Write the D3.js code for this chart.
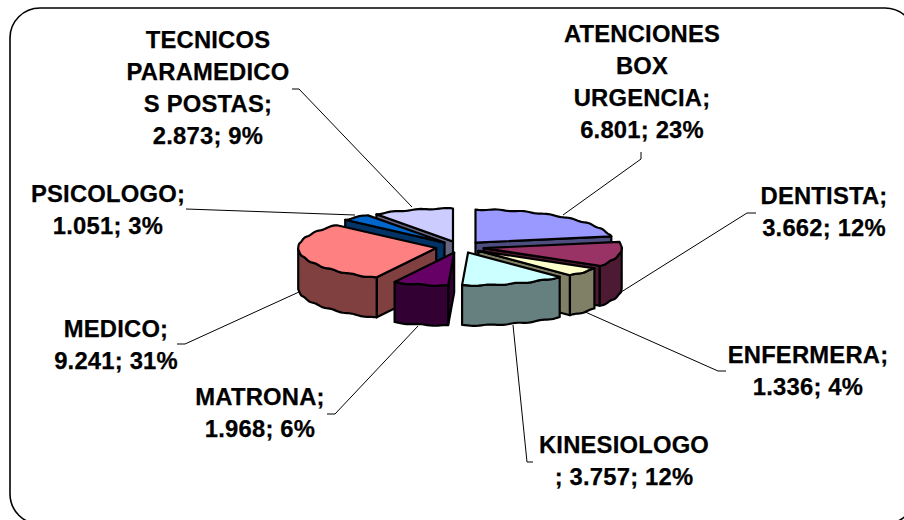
<!DOCTYPE html>
<html>
<head>
<meta charset="utf-8">
<script src="https://cdn.jsdelivr.net/npm/d3@7"></script>
<style>
  html, body { margin: 0; padding: 0; background: #fff; overflow: hidden; }
  text { font-family: "Liberation Sans", Arial, sans-serif; font-weight: bold; fill: #000; stroke: #000; stroke-width: 0.25; letter-spacing: 0.2px; }
</style>
</head>
<body>
<div id="chart"></div>
<script>
const categories = ["ATENCIONES BOX URGENCIA", "DENTISTA", "ENFERMERA", "KINESIOLOGO", "MATRONA", "MEDICO", "PSICOLOGO", "TECNICOS PARAMEDICOS POSTAS"];
const values = [6801, 3662, 1336, 3757, 1968, 9241, 1051, 2873];
const percents = [23, 12, 4, 12, 6, 31, 3, 9];
const topColors = ["#9999ff", "#993366", "#ffffcc", "#ccffff", "#660066", "#ff8080", "#0066cc", "#ccccff"];

// how the category wraps in its label, last line carries the value
const labelLines = [
  ["ATENCIONES", "BOX", "URGENCIA;"],
  ["DENTISTA;"],
  ["ENFERMERA;"],
  ["KINESIOLOGO"],
  ["MATRONA;"],
  ["MEDICO;"],
  ["PSICOLOGO;"],
  ["TECNICOS", "PARAMEDICO", "S POSTAS;"]
];

// label centre x, first baseline y, then the leader line points
const labelLayout = [
  { x: 642, y: 42, leader: [[641, 152], [641, 159], [563, 215]] },
  { x: 824, y: 204, leader: [[756, 213], [747, 213], [618, 294]] },
  { x: 808, y: 363, leader: [[726, 371], [718, 371], [583, 311]] },
  { x: 624, y: 453, leader: [[533, 462], [527, 462], [513, 325]] },
  { x: 260, y: 405, leader: [[327, 414], [335, 414], [418, 326]] },
  { x: 116, y: 337, leader: [[177, 344], [185, 344], [299, 292]] },
  { x: 108, y: 202, leader: [[186, 209], [355, 215]] },
  { x: 208, y: 48, leader: [[292, 89], [299, 89], [412, 207]] }
];

const width = 904;
const height = 520;
const cx = 460, cy = 247;
const rx = 138, ry = 33;
const depth = 40;
const explode = 0.175;
const lineHeight = 32;

const svg = d3.select("#chart")
  .append("svg")
  .attr("width", width)
  .attr("height", height);

svg.append("rect")
  .attr("x", 10)
  .attr("y", 8)
  .attr("width", 905)
  .attr("height", 516)
  .attr("rx", 30)
  .attr("ry", 30)
  .attr("fill", "#fff")
  .attr("stroke", "#000")
  .attr("stroke-width", 1.6);

const fmt = d3.formatLocale({ decimal: ",", thousands: ".", grouping: [3], currency: ["", ""] }).format(",");

// unit disc to screen, the pie is tilted so y is squashed
const xScale = d3.scaleLinear().domain([-1, 1]).range([cx - rx, cx + rx]);
const yScale = d3.scaleLinear().domain([-1, 1]).range([cy - ry, cy + ry]);

const pie = d3.pie().sort(null).value(d => d);
const arcs = pie(values).map((d, i) => {
  const mid = (d.startAngle + d.endAngle) / 2;
  return { ...d, i, mid, ox: explode * Math.sin(mid), oy: -explode * Math.cos(mid) };
});

function pt(d, a, r, drop) {
  // the rim of the original is slightly wavy
  const wave = r > 0 ? 0.5 * Math.sin(a * 31) : 0;
  return [
    xScale(d.ox + r * Math.sin(a)),
    yScale(d.oy - r * Math.cos(a)) + (drop || 0) + wave
  ];
}

function rimAngles(a0, a1) {
  const n = Math.max(2, Math.ceil((a1 - a0) / 0.02));
  return d3.range(n + 1).map(k => a0 + (a1 - a0) * k / n);
}

const line = d3.line();

function sideColor(c) {
  const rgb = d3.rgb(c);
  return d3.rgb(rgb.r / 2, rgb.g / 2, rgb.b / 2).formatHex();
}

function drawFace(g, points, fill) {
  g.append("path")
    .attr("d", line(points) + "Z")
    .attr("fill", fill)
    .attr("stroke", "#000")
    .attr("stroke-width", 2.2)
    .attr("stroke-linejoin", "round");
}

// leaders go under the pie
const leaders = svg.append("g");
labelLayout.forEach(l => {
  leaders.append("path")
    .attr("d", line(l.leader))
    .attr("fill", "none")
    .attr("stroke", "#000")
    .attr("stroke-width", 1);
});

const pieG = svg.append("g");

// back slices first so the front ones cover them
arcs.slice().sort((a, b) => d3.descending(Math.cos(a.mid), Math.cos(b.mid))).forEach(d => {
  const g = pieG.append("g");
  const top = topColors[d.i];
  const side = sideColor(top);

  // cut faces, only the ones turned to the viewer
  [[d.startAngle, -1], [d.endAngle, 1]].forEach(([a, dir]) => {
    if (-Math.cos(a + dir * Math.PI / 2) > 0) {
      drawFace(g, [pt(d, a, 0), pt(d, a, 1), pt(d, a, 1, depth), pt(d, a, 0, depth)], side);
    }
  });

  // outer wall between 90 and 270 degrees
  const a0 = Math.max(d.startAngle, Math.PI / 2);
  const a1 = Math.min(d.endAngle, 3 * Math.PI / 2);
  if (a1 > a0) {
    const rim = rimAngles(a0, a1);
    drawFace(g, rim.map(a => pt(d, a, 1)).concat(rim.slice().reverse().map(a => pt(d, a, 1, depth))), side);
  }

  const rim = rimAngles(d.startAngle, d.endAngle);
  drawFace(g, [pt(d, 0, 0)].concat(rim.map(a => pt(d, a, 1))), top);
});

// labels
const labels = svg.append("g").attr("text-anchor", "middle").attr("font-size", 23.8);
labelLayout.forEach((l, i) => {
  const last = labelLines[i][labelLines[i].length - 1];
  const valueLine = (last.endsWith(";") ? "" : "; ") + fmt(values[i]) + "; " + percents[i] + "%";
  labelLines[i].concat(valueLine).forEach((t, k) => {
    labels.append("text")
      .attr("x", l.x)
      .attr("y", l.y + k * lineHeight)
      .text(t);
  });
});
</script>
</body>
</html>
